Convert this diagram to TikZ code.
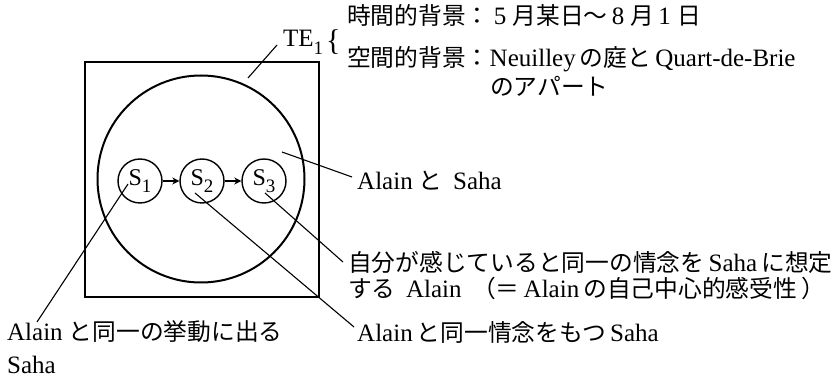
\documentclass[tikz,border=0pt]{standalone}
\usepackage{fontspec}
\setmainfont{Liberation Serif}
\newfontfamily\jpfont[Scale=0.95]{Noto Sans CJK JP}
\usetikzlibrary{arrows.meta}
\newcommand{\J}[1]{{\jpfont #1}}
\newcommand{\subnum}[1]{\raisebox{-0.3em}{\fontsize{19}{19}\selectfont #1}}
\tikzset{
  txt/.style={anchor=base west, inner sep=0pt, font=\fontsize{25}{29}\selectfont},
  frame/.style={draw, line width=2.2pt, inner sep=0pt},
  bigc/.style={circle, draw, line width=2pt, inner sep=0pt},
  smallc/.style={circle, draw, line width=1.4pt, inner sep=0pt, minimum size=44pt, font=\fontsize{24}{28}\selectfont},
  arr/.style={line width=1.4pt, -{Stealth[length=7pt,width=7pt]}},
  lead/.style={line width=1.1pt}
}
\begin{document}
\begin{tikzpicture}[x=1pt,y=-1pt]
\useasboundingbox[fill=white] (0,0) rectangle (836,379);
% frame and circles
\node[frame, minimum width=234pt, minimum height=235pt] (box) at (202,179.5) {};
\node[bigc, minimum size=207pt] (big) at (201,179) {};
\node[smallc] (s1) at (140,181) {S\subnum{1}};
\node[smallc] (s2) at (202,181) {S\subnum{2}};
\node[smallc] (s3) at (264,181) {S\subnum{3}};
\draw[arr] (s1) -- (s2);
\draw[arr] (s2) -- (s3);
% texts
\node[txt] (te) at (283,47) {TE\subnum{1}};
\node[anchor=west, inner sep=0pt, font=\fontsize{30}{30}\selectfont] (br) at (326,42) {\{};
\node[txt] (t1) at (347,25) {\J{時間的背景：}\,5 \J{月某日～}\,8 \J{月}\,1 \J{日}};
\node[txt] (t2) at (347,67) {\J{空間的背景：}Neuilley\,\J{の庭と}\,Quart-de-Brie};
\node[txt] (t3) at (490,96) {\J{のアパート}};
\node[txt] (as) at (357,190) {Alain \J{と}\, Saha};
\node[txt] (c1) at (348,272) {\J{自分が感じていると同一の情念を}\,Saha\,\J{に想定}};
\node[txt] (c2) at (348,298) {\J{する}\, Alain\, \J{（＝}\,Alain\,\J{の自己中心的感受性}\,\J{）}};
\node[txt] (b1) at (7,341) {Alain \J{と同一の挙動に出る}};
\node[txt] (b2) at (7,374) {Saha};
\node[txt] (b3) at (357,342) {Alain\,\J{と同一情念をもつ}\,Saha};
% leader lines
\coordinate (teA) at (248,78);
\coordinate (teB) at (277,45);
\draw[lead] (teA) -- (teB);
\coordinate (asA) at (282,152);
\coordinate (asB) at (352,177);
\draw[lead] (asA) -- (asB);
\coordinate (s3A) at (265,193);
\coordinate (s3B) at (343,262);
\draw[lead] (s3A) -- (s3B);
\coordinate (s2A) at (195,193);
\coordinate (s2B) at (354,327);
\draw[lead] (s2A) -- (s2B);
\coordinate (s1A) at (128,184);
\coordinate (s1B) at (37,322);
\draw[lead] (s1A) -- (s1B);
\end{tikzpicture}
\end{document}
